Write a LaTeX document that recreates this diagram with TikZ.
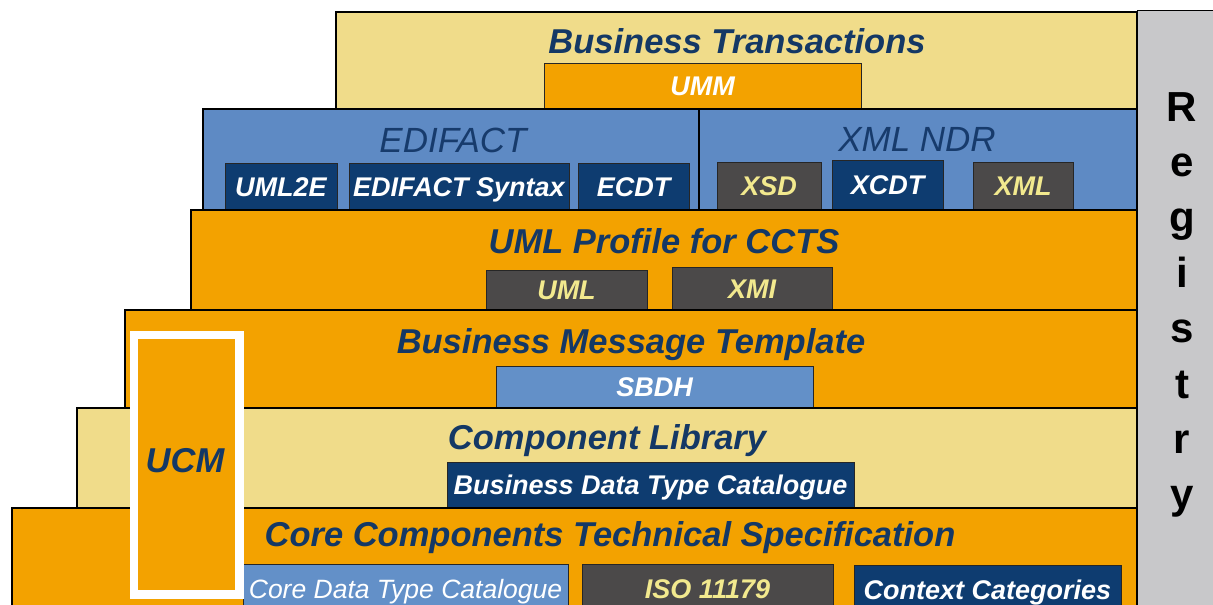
\documentclass[tikz,border=0pt]{standalone}
\usepackage{fontspec}
\setmainfont{Liberation Sans}
\definecolor{lightY}{HTML}{F0DC8A}
\definecolor{orangeL}{HTML}{F3A200}
\definecolor{bandB}{HTML}{5E8AC4}
\definecolor{navy}{HTML}{0E3C70}
\definecolor{darkG}{HTML}{4B4949}
\definecolor{midB}{HTML}{6390C8}
\definecolor{textNavy}{HTML}{143865}
\definecolor{ediText}{HTML}{173B6C}
\definecolor{yellowT}{HTML}{F2E98E}
\definecolor{regGray}{HTML}{C8C8CA}
\newcommand\sublabel{\fontsize{27}{30}\selectfont\bfseries\itshape}
\newcommand\sublabelR{\fontsize{26.5}{30}\selectfont\itshape}
\newcommand\titlefont{\fontsize{34.5}{40}\selectfont\bfseries\itshape}
\newcommand\titlefontR{\fontsize{35}{40}\selectfont\itshape}
\newcommand\rbox[7]{\node[#6, minimum width={(#4-#2)*1pt}, minimum height={(#5-#3)*1pt}, anchor=north west] (#1) at (#2,#3) {#7};}
\tikzset{
  lay/.style={draw=black, line width=1.3pt, inner sep=0pt, outer sep=0pt},
  layY/.style={lay, fill=lightY},
  layO/.style={lay, fill=orangeL},
  layB/.style={lay, fill=bandB},
  sub/.style={draw=black!85, line width=0.8pt, inner sep=0pt, outer sep=0pt, font=\sublabel, text height=19.5pt, text depth=0pt},
  subN/.style={sub, fill=navy, text=white},
  subG/.style={sub, fill=darkG, text=yellowT},
  subB/.style={sub, fill=midB, text=white},
  subO/.style={sub, fill=orangeL, text=white},
  ttl/.style={font=\titlefont, text=textNavy, anchor=base, inner sep=0pt},
  reg/.style={font=\fontsize{42}{48}\selectfont\bfseries, text=black, anchor=base, inner sep=0pt},
}
\begin{document}
\begin{tikzpicture}[x=1pt,y=-1pt]
\useasboundingbox (0,0) rectangle (1213,605);
\clip (0,0) rectangle (1213,605);
\fill[white] (0,0) rectangle (1213,605);
% registry column
\rbox{registry}{1137}{10}{1220}{615}{lay, fill=regGray, line width=1pt}{}
\foreach \l [count=\i] in {R,e,g,i,s,t,r,y}
  \node[reg] (reg\i) at (1182,{121+55.4*(\i-1)}) {\l};
% Business Transactions
\rbox{bt}{336}{12}{1137}{109}{layY}{}
\rbox{umm}{544}{63}{861}{109}{subO}{UMM}
\node[ttl] (btT) at (737,53) {Business Transactions};
% EDIFACT / XML NDR
\rbox{edi}{203}{109}{699}{210}{layB}{}
\rbox{xndr}{699}{109}{1137}{210}{layB}{}
\node[ttl, font=\titlefontR, text=ediText] (ediT) at (453,152) {EDIFACT};
\node[ttl, font=\titlefontR, text=ediText] (xndrT) at (917,151) {XML NDR};
\rbox{uml2e}{225}{163}{337}{210}{subN}{UML2E}
\rbox{edisyn}{349}{163}{569}{210}{subN}{EDIFACT Syntax}
\rbox{ecdt}{578}{163}{689}{210}{subN}{ECDT}
\rbox{xsd}{717}{162}{821}{210}{subG}{XSD}
\rbox{xcdt}{832}{160}{943}{210}{subN}{XCDT}
\rbox{xml}{973}{162}{1073}{210}{subG}{XML}
% UML Profile for CCTS
\rbox{prof}{191}{210}{1137}{310}{layO}{}
\node[ttl] (profT) at (664,253) {UML Profile for CCTS};
\rbox{uml}{486}{270}{647}{310}{subG}{UML}
\rbox{xmi}{672}{267}{832}{310}{subG}{XMI}
% Business Message Template
\rbox{bmt}{125}{310}{1137}{408}{layO}{}
\node[ttl] (bmtT) at (631,353) {Business Message Template};
\rbox{sbdh}{496}{366}{813}{408}{subB}{SBDH}
% Component Library
\rbox{cl}{77}{408}{1137}{508}{layY}{}
\node[ttl] (clT) at (607,449) {Component Library};
\rbox{bdtc}{447}{462}{854}{508}{subN}{Business Data Type Catalogue}
% CCTS
\rbox{ccts}{12}{508}{1137}{620}{layO}{}
\node[ttl] (cctsT) at (610,546) {Core Components Technical Specification};
\rbox{cdtc}{243}{564}{568}{614}{subB, font=\sublabelR}{Core Data Type Catalogue}
\rbox{iso}{582}{564}{833}{614}{subG}{ISO 11179}
\rbox{ctx}{854}{565}{1121}{614}{subN}{Context Categories}
% UCM
\rbox{ucm}{129.5}{330.5}{235}{590}{draw=white, line width=8.5pt, fill=orangeL, inner sep=0pt}{}
\node[ttl] (ucmT) at (185,472) {UCM};
\end{tikzpicture}
\end{document}
